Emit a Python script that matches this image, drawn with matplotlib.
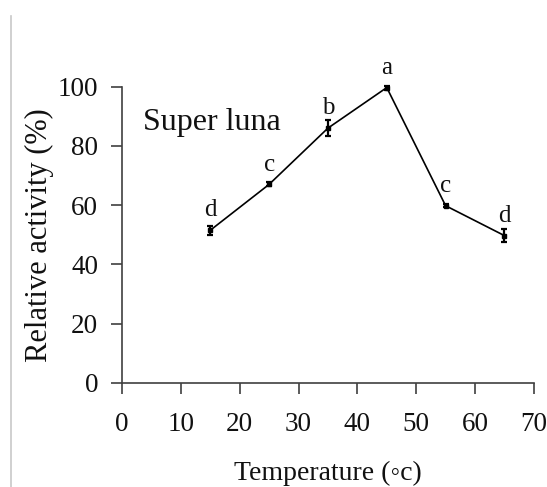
import matplotlib
matplotlib.use("Agg")
import matplotlib.pyplot as plt
from matplotlib.lines import Line2D

plt.rcParams['font.family'] = ['Liberation Serif', 'DejaVu Serif']

temperature = [15, 25, 35, 45, 55, 65]
activity = [51.5, 67.0, 86.0, 99.7, 59.8, 49.7]
errors = [1.6, 0.7, 2.7, 0.7, 0.5, 2.3]
letters = ['d', 'c', 'b', 'a', 'c', 'd']
x_ticks = [0, 10, 20, 30, 40, 50, 60, 70]
y_ticks = [0, 20, 40, 60, 80, 100]
series_label = 'Super luna'

fig = plt.figure(figsize=(5.47, 4.87), dpi=100)
ax = fig.add_axes([0.223, 0.214, 0.753, 0.608])

ax.errorbar(temperature, activity, yerr=errors, color='black', lw=1.2,
            elinewidth=1.6, capsize=2.5, capthick=1.6, marker='s', ms=2.5,
            clip_on=False, zorder=3)

for x, y, t in zip(temperature, activity, letters):
    ax.annotate(t, (x, y), xytext=(0, 10), textcoords='offset points',
                ha='center', va='baseline', fontsize=18, color='#111111',
                annotation_clip=False)

ax.text(0.05, 0.88, series_label, transform=ax.transAxes, fontsize=23,
        ha='left', va='center', color='#111111')

ax.set_xlim(0, 70)
ax.set_ylim(0, 100)
ax.set_xticks(x_ticks)
ax.set_yticks(y_ticks)
ax.tick_params(axis='both', direction='out', length=8, width=1.2,
               color='#404040', labelsize=19.5, labelcolor='#111111')
ax.tick_params(axis='y', pad=9)
ax.tick_params(axis='x', pad=13)
for s in ['top', 'right']:
    ax.spines[s].set_visible(False)
for s in ['left', 'bottom']:
    ax.spines[s].set_color('#404040')
    ax.spines[s].set_linewidth(1.2)

ax.set_ylabel('Relative activity (%)', fontsize=22, color='#111111', labelpad=3)
ax.set_xlabel('Temperature (\u25e6c)', fontsize=20, color='#111111', labelpad=17)

# light grey border line at the left edge
fig.add_artist(Line2D([11 / 547, 11 / 547], [0, 1 - 16 / 487],
                      transform=fig.transFigure, color='#c8c8c8', lw=1.2))

fig.savefig('out.png', dpi=100)
